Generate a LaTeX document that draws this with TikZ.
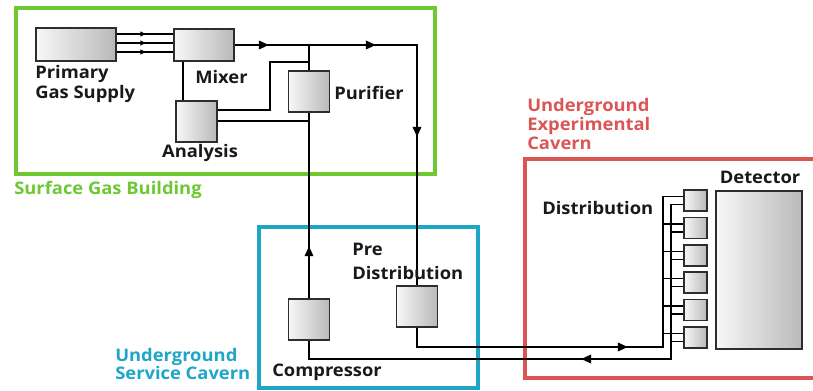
\documentclass[tikz,border=0pt]{standalone}
\usepackage{fontspec}
\setmainfont{Open Sans}[FakeStretch=1.06]
\usetikzlibrary{arrows.meta,decorations.markings,calc}
\definecolor{gframe}{RGB}{110,200,50}
\definecolor{bframe}{RGB}{30,165,200}
\definecolor{rframe}{RGB}{220,85,85}
\definecolor{boxedge}{RGB}{45,45,45}
\begin{document}
\begin{tikzpicture}[x=0.75pt,y=-0.75pt,
  dev/.style={draw=boxedge, line width=1.2pt, left color=gray!6, right color=gray!55, inner sep=0pt},
  sq/.style={minimum width=30.75pt, minimum height=30.75pt},
  dbox/.style={dev, minimum width=17.25pt, minimum height=15.75pt},
  flow/.style={line width=1.1pt, black},
  thin flow/.style={line width=0.9pt, black},
  frame/.style={line width=2.3pt},
  lbl/.style={inner sep=0pt, font=\fontsize{13}{15}\selectfont\bfseries, text=black!90},
  clbl/.style={inner sep=0pt, font=\fontsize{13}{14}\selectfont\bfseries, align=left},
  bigarrows/.style={postaction={decorate}, decoration={markings, #1}},
]
\useasboundingbox (0,0) rectangle (813,391);
\newcommand{\BigTip}{\arrow{Triangle[length=7.5pt,width=6.5pt]}}
\newcommand{\SmallTip}{\arrow{Triangle[length=4pt,width=3.6pt]}}

% frames
\draw[frame, gframe] (16,8) rectangle (435,174);
\draw[frame, bframe] (259,227) rectangle (478,388);
\draw[frame, rframe] (525,159) rectangle (840,378);

% devices
\node[dev, minimum width=60pt, minimum height=24.75pt] (pgs) at (76,44.5) {};
\node[dev, minimum width=45pt, minimum height=24pt] (mix) at (204,45) {};
\node[dev, sq] (ana) at (196.5,121.5) {};
\node[dev, sq] (pur) at (309,91.5) {};
\node[dev, sq] (comp) at (309,319.5) {};
\node[dev, sq] (pre) at (417,306.5) {};
\node[dev, minimum width=64.5pt, minimum height=118.5pt] (det) at (759,270) {};
\foreach \i in {1,...,6}{
  \node[dbox] (d\i) at (695.5,{200.5+27.4*(\i-1)}) {};
  \coordinate (d\i u) at ([yshift=3pt]d\i.west);
  \coordinate (d\i l) at ([yshift=-3pt]d\i.west);
}

% helper coordinates
\coordinate (ya) at (0,34);
\coordinate (yb) at (0,43);
\coordinate (yc) at (0,52);
\coordinate (yt) at (0,62);
\coordinate (yl) at (0,121);
\coordinate (bend1) at (270,62);
\coordinate (bend2) at (270,110);
\coordinate (am) at ([xshift=6pt]ana.north west);
\coordinate (sw) at (663,347);
\coordinate (rw) at (671,359);

% gas supply to mixer
\foreach \c in {ya,yb,yc}{
  \draw[thin flow, bigarrows={mark=at position 21.75pt with {\SmallTip}}]
    (pgs.east |- \c) -- (mix.west |- \c);
}
% mixer to pre distribution
\draw[flow, bigarrows={mark=at position 25.5pt with {\BigTip},
                       mark=at position 105.75pt with {\BigTip},
                       mark=at position 205.5pt with {\BigTip}}]
  (mix.east) -- (pre.north |- mix.east) -- (pre.north);
\draw[flow] (pur.north |- mix.east) -- (pur.north);
\draw[flow] (pur.north |- yt) -- (bend1) -- (bend2) -- (ana.east |- bend2);
\draw[flow] (ana.east |- yl) -- (pur.south |- yl);
\draw[flow] (am) -- (am |- mix.south);
% compressor to purifier
\draw[flow, bigarrows={mark=at position 39pt with {\BigTip}}]
  (comp.north) -- (pur.south);
% supply to distribution
\draw[flow, bigarrows={mark=at position 172.5pt with {\BigTip}}]
  (pre.south) |- (sw) -- (sw |- d1u) -- (d1u);
% return to compressor
\draw[flow, bigarrows={mark=at position 192.4pt with {\BigTip}}]
  (d1l) -- (rw |- d1l) -- (rw) -| (comp.south);
\foreach \i in {2,...,6}{
  \draw[flow] (sw |- d\i u) -- (d\i u);
  \draw[flow] (rw |- d\i l) -- (d\i l);
}

% labels
\node[lbl, anchor=north west, align=left] (tpgs) at (35,65) {Primary\\Gas Supply};
\node[lbl, anchor=west] (tmix) at (195,77) {Mixer};
\node[lbl, anchor=west] (tpur) at (334,93) {Purifier};
\node[lbl] (tana) at (200,153) {Analysis};
\node[lbl, anchor=west, align=left] (tpre) at (352,261) {Pre\\[3pt]Distribution};
\node[lbl, anchor=west] (tcomp) at (272,372) {Compressor};
\node[lbl, anchor=west] (tdist) at (542,208) {Distribution};
\node[lbl] (tdet) at (760,177) {Detector};
\node[clbl, text=gframe, anchor=west] (tsgb) at (14,190) {Surface Gas Building};
\node[clbl, text=bframe, anchor=west] (tusc) at (115,364) {Underground\\Service Cavern};
\node[clbl, text=rframe, anchor=west] (tuec) at (527,124) {Underground\\Experimental\\Cavern};
\end{tikzpicture}
\end{document}
